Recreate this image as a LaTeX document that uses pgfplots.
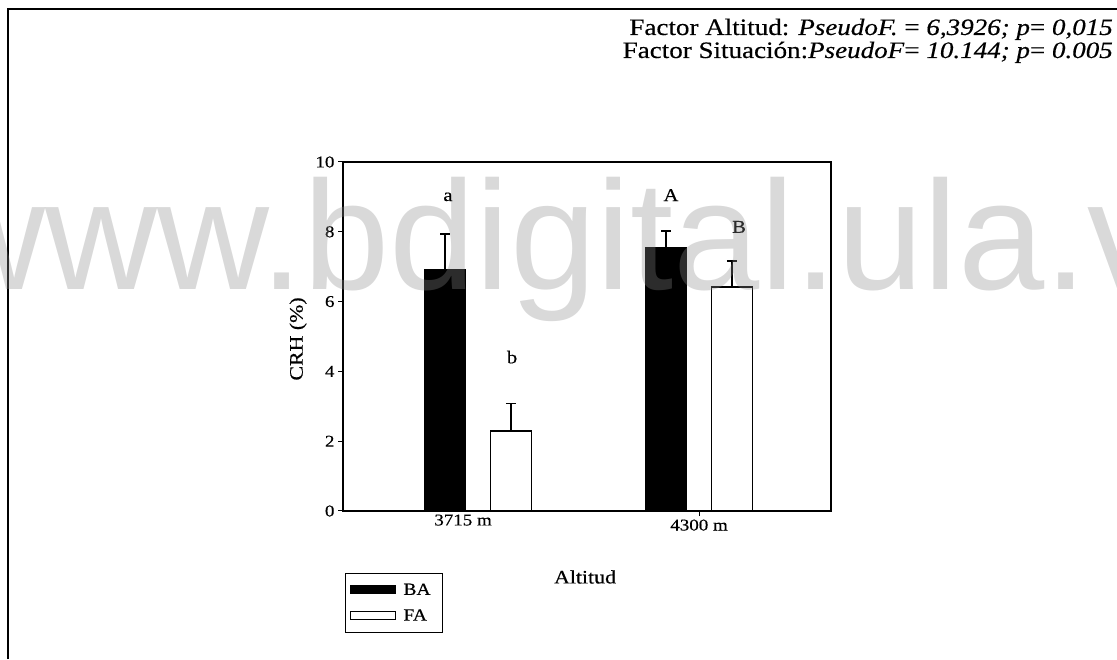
\documentclass[border=0pt]{standalone}
\usepackage{fontspec}
\setmainfont{Liberation Serif}[FakeStretch=1.15, FakeBold=0.4]
\newfontfamily\wmfont{Liberation Sans}
\usepackage{pgfplots}
\pgfplotsset{compat=1.18}
\begin{document}
\begin{tikzpicture}
\useasboundingbox (0,0) rectangle (1117pt,659pt);
\draw[line width=1.5pt] (8pt,0pt) -- (8pt,650pt) -- (1117pt,650pt);
\node[anchor=base east, inner sep=0pt, font=\fontsize{23.5}{28}\selectfont] at (1113pt,624pt) {Factor Altitud: \textit{PseudoF.} = \textit{6,3926; p}= \textit{0,015}};
\node[anchor=base east, inner sep=0pt, font=\fontsize{23.5}{28}\selectfont] at (1113pt,601pt) {Factor Situación:\textit{PseudoF}= \textit{10.144; p}= \textit{0.005}};
\begin{axis}[at={(343pt,148pt)}, anchor=south west, scale only axis,
  width=488pt, height=349pt,
  xmin=-0.611, xmax=1.597, ymin=0, ymax=10,
  ytick={0,2,4,6,8,10},
  xtick={1}, xticklabels={4300 m},
  extra x ticks={0}, extra x tick labels={\hspace*{-30pt}3715 m},
  extra x tick style={major tick length=0pt},
  xtick pos=bottom, ytick pos=left,
  tick align=outside, major tick length=5pt,
  tick style={line width=1pt, black},
  axis line style={line width=1.3pt},
  /pgf/number format/assume math mode=true,
  tick label style={font=\fontsize{16.5}{19}\selectfont},
  xlabel={Altitud}, ylabel={CRH (\%)},
  label style={font=\fontsize{19}{22}\selectfont},
  xlabel style={at={(axis description cs:0.496,-0.189)}, anchor=center},
  ylabel style={at={(axis description cs:-0.092,0.493)}, anchor=center},
  legend style={at={(0.004,-0.178)}, anchor=north west, draw=black, line width=1pt,
    font=\fontsize{17}{19}\selectfont, inner xsep=5pt, inner ysep=9pt,
    row sep=11pt, legend cell align=left,
    nodes={inner xsep=7pt, inner ysep=1pt}},
]
\addplot[ybar, bar width=0.184, bar shift=0, fill=black, draw=black, line width=1pt,
  legend image code/.code={\draw[fill=black, draw=black, line width=1pt] (0pt,-4pt) rectangle (45pt,4pt);},
  error bars/.cd, y dir=plus, y explicit, error mark=|,
  error bar style={line width=1.3pt, black},
  error mark options={line width=1.3pt, mark size=5pt, black}]
  coordinates {(-0.149,6.93) +- (0,1.01) (0.851,7.56) +- (0,0.46)};
\addlegendentry{BA}
\addplot[ybar, bar width=0.184, bar shift=0, fill=white, draw=black, line width=1.2pt,
  legend image code/.code={\draw[fill=white, draw=black, line width=1pt] (0pt,-4pt) rectangle (45pt,4pt);},
  error bars/.cd, y dir=plus, y explicit, error mark=|,
  error bar style={line width=1.3pt, black},
  error mark options={line width=1.3pt, mark size=5pt, black}]
  coordinates {(0.149,2.29) +- (0,0.80) (1.149,6.42) +- (0,0.74)};
\addlegendentry{FA}
\node[font=\fontsize{18}{20}\selectfont] at (axis cs:-0.136,9.0) {a};
\node[font=\fontsize{18}{20}\selectfont] at (axis cs:0.154,4.41) {b};
\node[font=\fontsize{18}{20}\selectfont] at (axis cs:0.873,9.05) {A};
\node[font=\fontsize{18}{20}\selectfont] at (axis cs:1.181,8.14) {B};
\end{axis}
\node[anchor=base west, inner sep=0pt, text=black!46, text opacity=0.325,
  font=\fontsize{155}{155}\wmfont] at (-67pt,369pt) {www.bdigital.ula.ve};
\end{tikzpicture}
\end{document}
